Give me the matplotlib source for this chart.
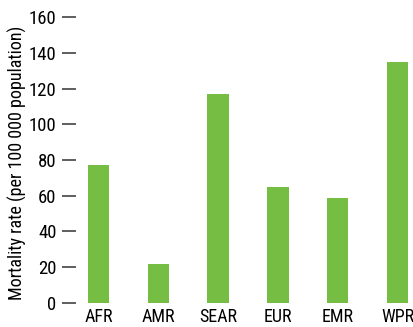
import matplotlib
matplotlib.use('Agg')
import matplotlib.pyplot as plt

plt.rcParams['font.family'] = ['Roboto Condensed', 'Liberation Sans', 'DejaVu Sans']

regions = ['AFR', 'AMR', 'SEAR', 'EUR', 'EMR', 'WPR']
rates = [77, 22, 117, 65, 59, 135]
yticks = [0, 20, 40, 60, 80, 100, 120, 140, 160]

fig = plt.figure(figsize=(4.13, 3.27), dpi=100)
ax = fig.add_axes([0.184, 0.074, 0.816, 0.873])

ax.bar(range(len(regions)), rates, width=0.36, color='#76bd43')
ax.set_xlim(-0.376, 5.26)
ax.set_ylim(0, 160)

for s in ax.spines.values():
    s.set_visible(False)

ax.set_yticks(yticks)
ax.set_xticks(range(len(regions)))
ax.set_xticklabels(regions)
ax.tick_params(axis='y', length=10, width=1.1, color='#333333', pad=4, labelsize=13.5)
ax.tick_params(axis='x', length=0, pad=4, labelsize=13)
ax.set_ylabel('Mortality rate (per 100 000 population)', fontsize=13)
ax.yaxis.set_label_coords(-0.145, 0.49)

fig.savefig('out.png', dpi=100)
